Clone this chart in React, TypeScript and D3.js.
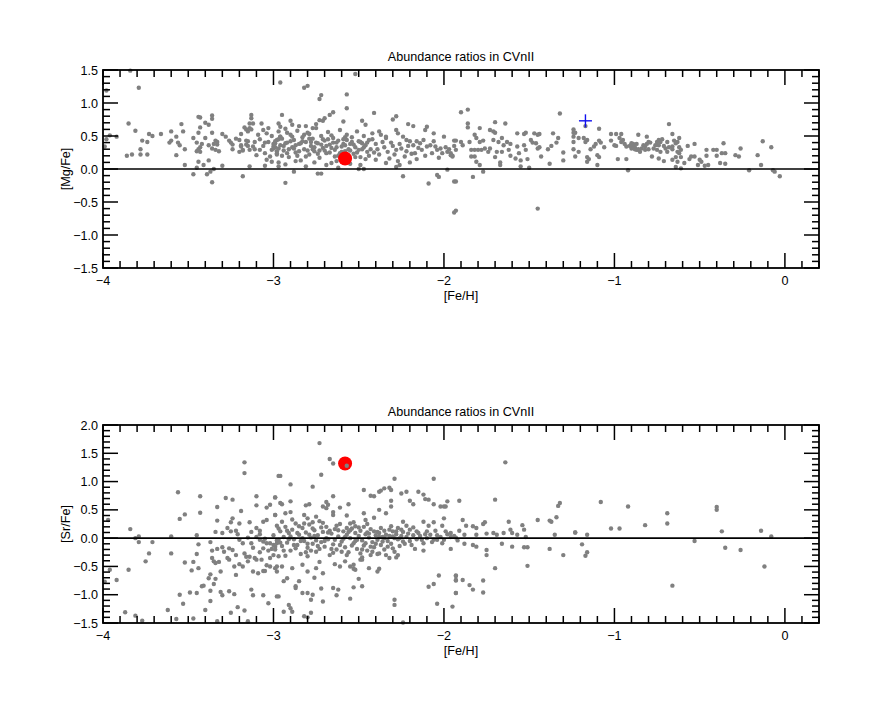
import React from 'react';
import * as d3 from 'd3';

const W = 888;
const H = 710;
const TITLE = 'Abundance ratios in CVnII';
const X_LABEL = '[Fe/H]';
const X_TICKS = [-4, -3, -2, -1, 0];
const TOP_Y_TICKS = [-1.5, -1, -0.5, 0, 0.5, 1, 1.5];
const BOT_Y_TICKS = [-1.5, -1, -0.5, 0, 0.5, 1, 1.5, 2];

// [Fe/H], [Mg/Fe] for comparison stars
const mgFe: [number, number][] = [
  [-3.84,1.49],[-3.98,1.19],[-3.79,1.23],[-3.85,0.69],[-3.81,0.58],[-3.96,0.51],[-3.92,0.49],[-3.98,0.45],[-3.99,0.34],[-3.86,0.20],
  [-3.83,0.22],[-3.78,0.22],[-3.78,0.30],[-3.77,0.43],[-3.74,0.41],[-3.74,0.22],[-3.73,0.53],[-3.71,0.50],[-3.66,0.53],[-3.60,0.57],
  [-3.61,0.40],[-3.60,0.43],[-3.57,0.49],[-3.56,0.40],[-3.55,0.36],[-3.57,0.21],[-3.54,0.68],[-3.53,0.57],[-3.52,0.30],[-3.52,0.06],[-3.44,0.11],
  [-3.47,-0.08],[-3.47,0.47],[-3.45,0.40],[-3.45,0.27],[-3.44,0.30],[-3.43,0.33],[-3.43,0.26],[-3.45,0.02],[-3.44,0.79],[-3.43,0.78],
  [-3.44,0.55],[-3.43,0.63],[-3.42,0.38],[-3.41,0.06],[-3.38,0.13],[-3.40,0.70],[-3.38,0.67],[-3.40,0.47],[-3.39,-0.08],[-3.37,-0.04],
  [-3.36,0.81],[-3.36,0.76],[-3.36,-0.20],[-3.36,0.55],[-3.38,0.36],[-3.36,0.31],[-3.35,0.38],[-3.34,0.43],[-3.34,0.29],[-3.33,0.41],
  [-3.33,0.37],[-3.32,0.27],[-3.35,0.00],[-3.30,0.53],[-3.30,0.05],[-3.28,0.49],[-3.26,0.43],[-3.24,0.37],[-3.22,0.46],[-3.24,0.30],
  [-3.20,0.26],[-3.19,0.34],[-3.18,0.28],[-3.16,0.43],[-3.19,0.53],[-3.16,0.60],[-3.17,0.63],[-3.14,0.62],[-3.18,-0.11],[-3.15,0.57],
  [-3.13,0.60],[-3.14,0.04],[-3.13,0.82],[-3.13,0.77],[-3.14,0.69],[-3.12,0.69],
  [-3.20,0.44],[-3.19,0.36],[-3.18,0.29],[-3.16,0.37],[-3.15,0.42],[-3.14,0.29],[-3.12,0.34],[-3.11,0.41],[-3.10,0.21],[-3.08,0.29],
  [-3.06,0.35],[-3.05,0.24],[-3.04,0.14],[-3.03,0.41],[-3.02,0.19],[-3.01,0.29],[-3.00,0.34],[-2.99,0.39],[-2.98,0.44],[-2.98,0.24],
  [-2.97,0.31],[-2.96,0.49],[-3.07,0.69],[-3.06,0.59],[-3.04,0.54],[-3.03,0.62],[-3.05,0.05],[-3.01,0.11],
  [-2.96,1.31],[-2.82,1.23],[-2.80,1.26],[-2.72,1.12],[-2.73,1.06],[-2.57,1.13],[-2.52,1.44],[-2.57,0.92],[-2.95,0.82],[-2.65,0.86],
  [-2.67,0.82],[-2.70,0.77],[-2.73,0.74],[-2.71,0.73],[-2.41,0.85],[-2.48,0.73],[-2.59,0.72],[-2.46,0.67],[-2.28,0.80],[-2.30,0.75],
  [-2.21,0.68],[-2.18,0.65],[-2.90,0.73],[-2.89,0.67],[-2.97,0.69],[-2.96,0.64],[-2.85,0.65],[-2.81,0.65],[-2.77,0.62],[-2.75,0.68],
  [-2.10,0.64],[-2.11,0.59],[-2.06,0.54],[-2.00,0.49],[-1.93,0.43],[-2.28,0.59],[-2.27,0.54],[-2.38,0.57],[-2.37,0.52],[-2.42,0.54],
  [-2.34,0.49],[-2.34,0.47],[-2.24,0.49],[-2.22,0.44],[-2.20,0.42],[-2.18,0.36],[-2.16,0.42],[-2.14,0.39],[-2.12,0.44],[-2.10,0.34],
  [-2.08,0.36],[-2.06,0.42],[-2.05,0.34],[-2.04,0.29],[-2.02,0.31],[-2.01,0.24],[-1.98,0.26],[-1.96,0.21],[-1.95,0.19],[-1.93,0.29],
  [-2.17,0.24],[-2.16,0.15],[-2.13,0.29],[-2.24,-0.11],[-2.09,-0.22],[-2.04,-0.09],[-2.03,-0.12],[-1.93,-0.19],[-1.98,-0.01],[-2.93,-0.21],
  [-2.74,-0.07],[-2.72,-0.07],[-2.50,0.00],[-2.47,0.00],[-2.62,0.02],[-2.28,0.03],[-2.88,-0.04],[-2.97,0.04],
  [-3.01,0.50],[-3.00,0.31],[-2.99,0.42],[-2.98,0.22],[-2.97,0.57],[-2.96,0.36],[-2.95,0.46],[-2.94,0.28],[-2.93,0.61],[-2.92,0.40],
  [-2.91,0.18],[-2.90,0.52],[-2.89,0.33],[-2.88,0.44],[-2.87,0.25],[-2.86,0.58],[-2.85,0.38],[-2.84,0.13],[-2.83,0.48],[-2.82,0.30],
  [-2.81,0.41],[-2.80,0.55],[-2.79,0.22],[-2.78,0.35],[-2.77,0.46],[-2.76,0.27],[-2.75,0.62],[-2.74,0.39],[-2.73,0.17],[-2.72,0.50],
  [-2.71,0.32],[-2.70,0.43],[-2.69,0.24],[-2.68,0.56],[-2.67,0.37],[-2.66,0.09],[-2.65,0.47],[-2.64,0.29],[-2.63,0.40],[-2.62,0.20],
  [-2.61,0.59],[-2.60,0.34],[-2.59,0.45],[-2.58,0.27],[-2.57,0.52],[-2.56,0.14],[-2.55,0.38],[-2.54,0.48],[-2.53,0.23],[-2.52,0.33],
  [-2.51,0.57],[-2.50,0.42],[-2.49,0.18],[-2.48,0.30],[-2.47,0.50],[-2.46,0.36],[-2.45,0.26],[-2.44,0.44],
  [-3.00,0.38],[-2.98,0.27],[-2.96,0.49],[-2.94,0.35],[-2.92,0.24],[-2.90,0.42],[-2.88,0.31],[-2.86,0.20],[-2.84,0.39],[-2.82,0.52],
  [-2.80,0.28],[-2.78,0.41],[-2.76,0.33],[-2.74,0.23],[-2.72,0.37],[-2.70,0.28],[-2.68,0.45],[-2.66,0.32],[-2.64,0.19],[-2.62,0.43],
  [-2.60,0.26],[-2.58,0.36],[-2.56,0.30],[-2.54,0.41],[-2.52,0.18],[-2.50,0.29],[-2.48,0.39],[-2.46,0.15],
  [-2.97,0.10],[-2.93,0.07],[-2.87,0.12],[-2.81,0.04],[-2.76,0.10],[-2.69,0.06],[-2.63,0.12],[-2.55,0.08],[-2.49,0.06],
  [-2.99,0.33],[-2.97,0.45],[-2.95,0.20],[-2.93,0.39],[-2.91,0.30],[-2.89,0.49],[-2.87,0.36],[-2.85,0.27],[-2.83,0.42],[-2.81,0.19],
  [-2.79,0.46],[-2.77,0.30],[-2.75,0.40],[-2.73,0.28],[-2.71,0.45],[-2.69,0.35],[-2.67,0.25],[-2.65,0.40],[-2.63,0.33],[-2.61,0.24],
  [-2.59,0.38],[-2.57,0.44],[-2.55,0.28],[-2.53,0.37],[-2.51,0.25],[-2.49,0.41],[-2.47,0.33],[-2.45,0.40],[-2.43,0.30],[-2.41,0.25],
  [-3.05,0.40],[-3.08,0.45],[-3.11,0.30],[-3.15,0.35],[-3.25,0.40],[-3.09,0.52],[-2.66,0.51],[-2.79,0.53],[-2.92,0.55],[-2.58,0.48],
  [-2.42,0.45],[-2.40,0.38],[-2.39,0.30],[-2.38,0.22],[-2.36,0.41],[-2.35,0.33],[-2.33,0.26],[-2.32,0.16],[-2.31,0.40],[-2.30,0.35],
  [-2.29,0.22],[-2.28,0.29],[-2.27,0.12],[-2.26,0.38],[-2.25,0.31],[-2.23,0.19],[-2.22,0.27],[-2.21,0.35],[-2.20,0.10],[-2.19,0.23],
  [-2.26,0.06],[-2.34,0.09],[-2.40,0.14],[-2.44,0.20],[-2.15,0.32],[-2.11,0.20],[-2.07,0.24],[-2.03,0.17],[-1.99,0.33],[-1.97,0.30],
  [-1.90,0.86],[-1.86,0.90],[-1.86,0.69],[-1.86,0.63],[-1.79,0.62],[-1.70,0.71],[-1.64,0.69],[-1.32,0.84],[-1.17,0.65],
  [-1.24,0.60],[-1.24,0.55],[-1.23,0.55],[-1.09,0.61],[-1.02,0.53],[-0.99,0.53],[-0.96,0.53],
  [-1.94,0.43],[-1.90,0.41],[-1.89,0.36],[-1.94,0.35],[-1.96,0.24],[-1.95,0.20],
  [-1.85,0.41],[-1.82,0.52],[-1.81,0.47],[-1.79,0.41],[-1.77,0.43],[-1.76,0.31],[-1.78,0.29],[-1.80,0.29],[-1.82,0.29],[-1.84,0.29],
  [-1.84,0.19],[-1.82,0.19],[-1.81,0.11],[-1.79,0.06],[-1.77,-0.04],[-1.83,-0.12],[-1.94,-0.19],[-1.94,-0.66],[-1.93,-0.63],[-1.45,-0.60],
  [-1.73,0.59],[-1.71,0.57],[-1.70,0.55],[-1.73,0.31],[-1.74,0.26],[-1.71,0.44],[-1.68,0.41],[-1.66,0.47],[-1.65,0.36],
  [-1.70,0.18],[-1.67,0.10],[-1.67,0.06],[-1.69,0.26],[-1.66,0.26],[-1.63,0.41],[-1.61,0.38],[-1.62,0.29],[-1.61,0.20],[-1.58,0.16],
  [-1.57,0.54],[-1.57,0.34],[-1.56,0.24],[-1.55,0.13],[-1.55,0.04],[-1.53,0.53],[-1.52,0.55],[-1.53,0.36],[-1.52,0.29],[-1.51,0.15],
  [-1.50,0.02],[-1.49,0.44],[-1.48,0.40],[-1.47,0.54],[-1.45,0.52],[-1.44,0.53],[-1.45,0.31],[-1.44,0.33],[-1.43,0.19],[-1.46,0.39],
  [-1.39,0.30],[-1.38,0.08],[-1.37,0.35],[-1.36,0.54],[-1.34,0.40],[-1.33,0.47],[-1.30,0.25],[-1.30,0.13],
  [-1.24,0.49],[-1.24,0.41],[-1.24,0.30],[-1.23,0.19],[-1.21,0.26],[-1.21,0.47],[-1.18,0.47],[-1.17,0.41],[-1.16,0.44],
  [-1.16,0.18],[-1.15,0.15],[-1.16,0.11],[-1.14,0.30],[-1.12,0.34],[-1.11,0.38],[-1.10,0.21],[-1.10,0.06],[-1.09,0.43],[-1.08,0.40],
  [-1.09,0.18],[-1.06,0.33],[-1.02,0.43],[-1.00,0.36],[-0.99,0.35],[-0.97,0.47],[-0.96,0.41],[-0.95,0.44],[-0.94,0.38],[-0.93,0.34],
  [-0.98,0.15],[-0.93,0.15],[-0.92,-0.02],[-0.91,0.35],[-0.89,0.38],[-0.88,0.33],[-0.87,0.29],[-0.86,0.30],
  [-0.68,0.68],[-0.86,0.52],[-0.81,0.49],[-0.66,0.53],
  [-0.90,0.39],[-0.89,0.35],[-0.90,0.31],[-0.88,0.30],[-0.87,0.38],[-0.86,0.29],[-0.84,0.31],[-0.85,0.26],[-0.83,0.36],[-0.82,0.34],
  [-0.81,0.38],[-0.80,0.41],[-0.79,0.40],[-0.82,0.29],[-0.80,0.30],[-0.76,0.36],[-0.75,0.41],[-0.74,0.44],[-0.73,0.41],[-0.72,0.45],
  [-0.74,0.36],[-0.77,0.31],[-0.75,0.29],[-0.73,0.26],[-0.71,0.35],[-0.69,0.41],[-0.70,0.31],[-0.68,0.33],[-0.69,0.26],
  [-0.78,0.19],[-0.74,0.16],[-0.71,0.12],
  [-0.66,0.34],[-0.66,0.30],[-0.65,0.43],[-0.64,0.39],[-0.63,0.41],[-0.62,0.47],[-0.62,0.33],[-0.63,0.26],[-0.62,0.24],[-0.61,0.29],
  [-0.61,0.18],[-0.64,0.18],[-0.66,0.14],[-0.63,0.11],[-0.64,0.03],[-0.61,0.01],
  [-0.57,0.35],[-0.53,0.38],[-0.59,0.09],[-0.56,0.15],[-0.55,0.19],[-0.53,0.19],[-0.51,0.06],[-0.50,0.14],[-0.49,0.11],[-0.47,0.05],
  [-0.45,0.06],[-0.46,0.20],[-0.46,0.29],[-0.42,0.29],[-0.40,0.29],[-0.40,0.20],[-0.38,0.09],[-0.37,0.24],[-0.36,0.39],[-0.35,0.24],
  [-0.35,0.08],[-0.29,0.21],[-0.27,0.19],[-0.26,0.31],[-0.21,-0.02],[-0.16,0.21],[-0.14,0.06],[-0.13,0.42],[-0.08,0.33],
  [-0.07,-0.02],[-0.06,-0.04],[-0.03,-0.11]
];

// [Fe/H], [Sr/Fe] for comparison stars
const srFe: [number, number][] = [
  [-3.17,1.34],[-3.17,1.15],[-2.97,1.10],[-3.56,0.81],[-3.43,0.74],[-3.28,0.71],[-3.24,0.68],[-3.10,0.74],[-3.10,0.58],[-2.99,0.72],
  [-3.33,0.55],[-3.55,0.34],[-3.52,0.42],[-3.43,0.45],[-3.97,0.32],[-3.84,0.16],[-3.19,0.48],[-3.24,0.35],[-3.25,0.28],[-3.20,0.26],
  [-3.14,0.28],[-3.33,0.31],[-3.04,0.54],[-3.02,0.59],[-2.99,0.41],[-2.96,0.62],
  [-3.27,0.18],[-3.30,0.09],[-3.34,0.11],[-3.25,0.12],[-3.22,0.13],[-3.21,0.07],[-3.13,0.11],[-3.08,0.07],[-3.06,0.29],[-3.04,0.32],
  [-3.10,0.18],[-3.08,0.13],[-3.81,0.00],[-3.79,0.03],[-3.79,-0.07],[-3.71,-0.07],[-3.60,0.03],[-3.45,0.05],[-3.44,-0.11],[-3.37,-0.07],
  [-3.73,-0.27],[-3.75,-0.41],[-3.60,-0.27],[-3.85,-0.56],[-3.96,-0.56],[-3.92,-0.74],[-3.99,-0.77],
  [-3.52,-0.43],[-3.47,-0.42],[-3.48,-0.57],[-3.44,-0.53],[-3.45,-0.28],
  [-3.36,-0.35],[-3.36,-0.22],[-3.33,-0.19],[-3.30,-0.16],[-3.26,-0.18],[-3.24,-0.21],[-3.29,-0.24],
  [-3.35,-0.41],[-3.34,-0.44],[-3.32,-0.42],[-3.31,-0.59],[-3.37,-0.64],[-3.38,-0.71],[-3.34,-0.72],[-3.42,-0.85],[-3.41,-0.84],[-3.35,-0.81],
  [-3.37,-0.93],[-3.37,-1.11],[-3.40,-1.27],
  [-3.27,-0.35],[-3.26,-0.38],[-3.23,-0.50],[-3.22,-0.65],[-3.20,-0.46],[-3.17,-0.27],[-3.16,-0.33],[-3.18,-0.50],[-3.15,-0.41],[-3.14,-0.33],
  [-3.12,-0.59],[-3.11,-0.35],[-3.10,-0.38],[-3.09,-0.62],[-3.07,-0.38],[-3.06,-0.58],[-3.05,-0.58],[-3.04,-0.48],[-3.02,-0.50],[-3.02,-0.35],
  [-3.00,-0.30],[-2.99,-0.53],[-2.98,-0.50],[-2.97,-0.32],
  [-3.18,-0.09],[-3.13,-0.09],[-3.08,-0.03],[-3.06,-0.06],[-3.04,-0.09],[-3.02,-0.09],[-3.00,-0.12],[-3.06,-0.18],[-3.03,-0.22],[-3.01,-0.19],
  [-2.99,-0.15],[-2.98,-0.09],[-2.97,-0.03],[-3.08,-0.25],
  [-3.55,-1.00],[-3.49,-0.96],[-3.45,-0.97],[-3.53,-1.16],
  [-3.31,-0.95],[-3.30,-1.01],[-3.26,-0.94],[-3.23,-0.99],[-3.13,-0.91],[-3.12,-1.01],[-3.06,-1.01],[-2.97,-1.03],[-3.03,-1.15],
  [-3.62,-1.27],[-3.87,-1.31],[-3.81,-1.37],[-3.77,-1.46],[-3.57,-1.43],[-3.47,-1.42],[-3.33,-1.47],[-3.25,-1.32],[-3.21,-1.22],[-3.17,-1.28],[-3.15,-1.47],
  [-2.73,1.68],[-2.67,1.40],[-2.65,1.32],[-2.96,1.10],[-2.72,1.12],[-2.90,0.95],[-2.77,0.91],[-2.29,1.05],[-2.06,1.05],
  [-2.47,0.85],[-2.65,0.74],[-2.99,0.72],[-2.43,0.75],[-2.41,0.74],[-2.38,0.82],[-2.37,0.84],[-2.35,0.88],[-2.32,0.89],[-2.31,0.85],
  [-2.25,0.79],[-2.22,0.82],[-2.20,0.66],[-2.18,0.60],[-2.15,0.82],[-2.12,0.77],[-2.11,0.69],[-2.09,0.68],[-2.06,0.60],[-2.02,0.56],
  [-2.00,0.56],[-1.98,0.65],[-1.99,0.56],[-1.91,0.66],
  [-2.90,0.65],[-2.95,0.60],[-2.81,0.58],[-2.79,0.60],[-2.71,0.56],[-2.69,0.64],[-2.68,0.59],[-2.69,0.53],[-2.65,0.46],[-2.61,0.54],
  [-2.56,0.60],[-2.57,0.40],[-2.65,0.41],
  [-2.31,0.66],[-2.31,0.56],[-2.34,0.44],[-2.38,0.50],[-2.41,0.36],[-2.47,0.44],[-2.46,0.32],[-2.45,0.25],[-2.52,0.21],[-2.55,0.26],[-2.57,0.18],
  [-2.99,0.41],[-2.93,0.44],[-2.90,0.46],[-2.82,0.41],[-2.80,0.35],[-2.75,0.38],[-2.77,0.28],
  [-2.24,0.29],[-2.22,0.22],[-2.20,0.15],[-2.18,0.19],[-2.12,0.29],[-2.09,0.22],[-2.06,0.28],[-2.05,0.13],[-2.01,0.22],[-2.00,0.35],
  [-1.99,0.12],[-1.96,0.09],[-1.93,0.01],[-1.91,0.13],[-2.10,0.12],[-2.16,0.12],[-2.24,0.11],[-2.27,0.18],[-2.30,0.12],[-2.35,0.13],[-2.39,0.11],
  [-2.17,-0.19],[-2.12,-0.22],[-2.04,-0.03],[-2.01,-0.09],[-1.96,-0.19],
  [-2.32,-0.35],[-2.28,-0.34],[-2.38,-0.27],[-2.43,-0.30],[-2.48,-0.38],[-2.53,-0.47],[-2.52,-0.56],[-2.44,-0.53],[-2.39,-0.59],[-2.38,-0.54],
  [-2.50,-0.72],[-2.48,-0.85],[-2.53,-0.87],[-2.55,-1.07],[-2.62,-0.91],[-2.63,-1.01],[-2.65,-0.88],[-2.72,-0.89],[-2.71,-1.12],[-2.77,-1.00],
  [-2.78,-1.09],[-2.80,-0.97],[-2.83,-0.97],
  [-2.29,-1.09],[-2.29,-1.18],
  [-1.93,-0.66],[-1.93,-0.74],[-2.03,-0.66],[-2.06,-0.81],[-2.09,-0.86],[-1.93,-0.97],[-2.04,-1.16],[-1.95,-1.21],
  [-2.98,-1.03],[-2.91,-1.18],[-2.90,-1.24],[-2.94,-1.30],[-2.89,-1.30],[-2.82,-1.38],[-2.80,-1.40],[-2.78,-1.32],
  [-2.94,-0.76],[-2.87,-0.85],[-2.87,-0.88],[-2.85,-0.76],[-2.92,-0.71],[-2.98,-0.59],[-2.95,-0.50],[-2.89,-0.53],
  [-2.71,-0.62],[-2.76,-0.70],[-2.75,-0.53],[-2.80,-0.59],[-2.83,-0.47],[-2.80,-0.32],[-2.73,-0.42],[-2.64,-0.46],[-2.61,-0.50],[-2.58,-0.41],
  [-2.55,-0.50],[-2.53,-0.54],[-2.49,-0.38],[-2.48,-0.34],
  [-3.00,0.05],[-2.98,-0.04],[-2.96,0.12],[-2.95,-0.14],[-2.94,0.02],[-2.93,0.20],[-2.92,-0.08],[-2.91,0.09],[-2.90,-0.22],[-2.89,0.15],
  [-2.88,-0.02],[-2.87,0.26],[-2.86,-0.12],[-2.85,0.06],[-2.84,-0.28],[-2.83,0.18],[-2.82,-0.05],[-2.81,0.10],[-2.80,-0.17],[-2.79,0.24],
  [-2.78,0.01],[-2.77,-0.10],[-2.76,0.14],[-2.75,-0.24],[-2.74,0.05],[-2.73,0.30],[-2.72,-0.07],[-2.71,0.11],[-2.70,-0.15],[-2.69,0.20],
  [-2.68,-0.02],[-2.67,-0.30],[-2.66,0.08],[-2.65,-0.11],[-2.64,0.16],[-2.63,-0.20],[-2.62,0.03],[-2.61,0.25],[-2.60,-0.06],[-2.59,0.12],
  [-2.58,-0.16],[-2.57,0.06],[-2.56,-0.25],[-2.55,0.00],[-2.54,0.17],[-2.53,-0.09],[-2.52,0.09],[-2.51,-0.19],[-2.50,0.04],[-2.49,0.13],
  [-2.48,-0.04],[-2.47,-0.13],[-2.46,0.07],[-2.45,-0.22],[-2.44,0.01],[-2.43,0.16],[-2.42,-0.07],[-2.41,-0.16],[-2.40,0.05],[-2.39,-0.03],
  [-2.38,0.09],[-2.37,-0.12],[-2.36,0.02],[-2.35,-0.20],[-2.34,0.06],[-2.33,-0.05],[-2.32,0.15],[-2.31,-0.10],[-2.30,0.03],[-2.29,-0.24],
  [-2.28,0.07],[-2.27,-0.02],[-2.26,-0.14],[-2.25,0.04],[-2.24,-0.06],
  [-2.99,-0.20],[-2.97,0.17],[-2.95,0.29],[-2.93,-0.31],[-2.91,-0.02],[-2.89,0.33],[-2.87,-0.18],[-2.85,0.21],[-2.83,0.00],[-2.81,-0.25],
  [-2.79,0.06],[-2.77,0.17],[-2.75,-0.04],[-2.73,-0.19],[-2.71,0.27],[-2.69,0.00],[-2.67,0.13],[-2.65,-0.26],[-2.63,0.22],[-2.61,-0.12],
  [-2.59,-0.01],[-2.57,-0.30],[-2.55,0.14],[-2.53,0.28],[-2.51,-0.03],[-2.49,-0.27],[-2.47,0.20],[-2.45,0.10],[-2.43,-0.15],[-2.41,0.12],
  [-2.39,-0.28],[-2.37,0.18],[-2.35,0.00],[-2.33,-0.15],[-2.31,0.21],[-2.29,0.00],[-2.27,-0.30],[-2.25,0.15],
  [-2.98,0.22],[-2.96,-0.08],[-2.94,-0.22],[-2.92,0.13],[-2.90,0.03],[-2.88,-0.12],[-2.86,0.09],[-2.84,-0.05],[-2.82,0.26],[-2.80,-0.10],
  [-2.78,-0.22],[-2.76,0.04],[-2.74,-0.14],[-2.72,0.19],[-2.70,-0.05],[-2.68,0.10],[-2.66,-0.19],[-2.64,-0.03],[-2.62,0.14],[-2.60,-0.24],
  [-2.58,0.02],[-2.56,0.11],[-2.54,-0.13],[-2.52,-0.05],[-2.50,0.19],[-2.48,-0.20],[-2.46,-0.09],[-2.44,0.08],[-2.42,-0.24],[-2.40,-0.10],
  [-2.38,0.02],[-2.36,-0.06],[-2.34,-0.30],[-2.32,0.04],[-2.30,-0.18],[-2.28,0.12],[-2.26,0.00],[-2.23,-0.10],[-2.21,0.08],[-2.19,-0.12],
  [-2.15,0.09],[-2.13,-0.03],[-2.11,0.07],[-2.07,-0.07],[-3.05,-0.01],[-3.10,0.02],[-3.15,0.01],[-3.20,-0.03],[-3.12,-0.17],[-3.22,-0.30],
  [-2.22,0.02],[-2.20,-0.05],[-2.18,0.05],[-2.16,-0.02],[-2.14,0.04],[-2.12,-0.09],[-2.10,0.00],[-2.08,0.06],[-2.06,-0.03],[-2.04,0.05],
  [-2.02,0.02],[-2.00,-0.03],[-1.98,0.07],[-1.96,0.02],[-1.94,0.04],[-1.92,-0.04],
  [-1.64,1.34],[-1.89,0.32],[-1.87,0.22],[-1.83,0.21],[-1.81,0.18],[-1.77,0.25],[-1.76,0.28],[-1.70,0.68],[-1.62,0.29],[-1.61,0.15],
  [-1.54,0.23],[-1.53,0.15],[-1.45,0.32],[-1.38,0.31],[-1.37,0.29],[-1.34,0.37],[-1.33,0.57],[-1.32,0.62],[-1.23,0.10],
  [-1.88,0.06],[-1.81,0.06],[-1.75,0.08],[-1.71,0.09],[-1.69,0.06],[-1.65,0.09],[-1.60,0.09],[-1.57,0.06],[-1.52,0.02],[-1.35,0.06],
  [-1.88,-0.10],[-1.83,-0.12],[-1.81,-0.15],[-1.75,-0.21],[-1.75,-0.30],[-1.70,-0.53],[-1.66,-0.10],[-1.60,-0.15],[-1.53,-0.16],[-1.51,-0.16],
  [-1.51,-0.49],[-1.38,-0.19],[-1.30,-0.30],
  [-1.89,-0.74],[-1.85,-0.83],[-1.83,-0.91],[-1.77,-0.75],[-1.77,-0.96],[-1.93,-0.67],[-1.93,-0.75],[-1.93,-0.97],[-2.24,-1.49],
  [-1.08,0.64],[-0.92,0.56],[-1.23,0.10],[-1.16,0.06],[-1.19,-0.11],[-1.17,-0.31],[-1.16,-0.25],[-1.02,0.17],[-0.97,0.17],[-0.82,0.23],
  [-0.69,0.44],[-0.69,0.26],[-0.66,-0.84],[-0.53,-0.05],[-0.40,0.55],[-0.40,0.50],[-0.37,0.12],[-0.35,-0.17],[-0.26,-0.21],[-0.14,0.13],
  [-0.12,-0.50],[-0.08,0.03]
];

// CVn II star
const cvnMg: [number, number][] = [[-2.58, 0.16]];
const cvnSr: [number, number][] = [[-2.58, 1.32]];
const srOverlay: [number, number][] = [[-2.57, 1.28]];
const crossMg: [number, number][] = [[-1.17, 0.73]];

const FONT = '"Liberation Sans", Arial, Helvetica, sans-serif';
const FS = 12.6;
const minus = (s: string) => s.replace(/-/g, '\u2212');

type PanelProps = {
  top: number;
  bottom: number;
  yDomain: [number, number];
  yTicks: number[];
  yLabel: string;
  data: [number, number][];
  red: [number, number][];
  cross?: [number, number][];
  overlay?: [number, number][];
};

const LEFT = 103;
const RIGHT = 819;

function Panel({ top, bottom, yDomain, yTicks, yLabel, data, red, cross, overlay }: PanelProps) {
  const x = d3.scaleLinear().domain([-4, 0.2]).range([LEFT, RIGHT]);
  const y = d3.scaleLinear().domain(yDomain).range([bottom, top]);
  const xMinor = d3.range(-40, 3).map((i) => i / 10);
  const yMinor = d3.range(Math.round(yDomain[0] * 10), Math.round(yDomain[1] * 10) + 1).map((i) => i / 10);
  const fx = d3.format('d');
  const fy = d3.format('.1f');
  const majL = 15;
  const minL = 7;
  const sw = 1.5;
  return (
    <g>
      <text x={(LEFT + RIGHT) / 2} y={top - 9} textAnchor="middle" fontSize={FS} fontFamily={FONT} fill="#000">{TITLE}</text>
      {data.map((d, i) => (
        <circle key={i} cx={x(d[0])} cy={y(d[1])} r={2.2} fill="#808080" />
      ))}
      <line x1={LEFT} x2={RIGHT} y1={y(0)} y2={y(0)} stroke="#000" strokeWidth={1.6} />
      {red.map((d, i) => (
        <circle key={'r' + i} cx={x(d[0])} cy={y(d[1])} r={7} fill="#ff0000" />
      ))}
      {overlay && overlay.map((d, i) => (
        <circle key={'o' + i} cx={x(d[0])} cy={y(d[1])} r={2.2} fill="#808080" />
      ))}
      {cross && cross.map((d, i) => (
        <g key={'c' + i} stroke="#1010f0" strokeWidth={1.4}>
          <line x1={x(d[0]) - 6.5} x2={x(d[0]) + 6.5} y1={y(d[1])} y2={y(d[1])} />
          <line x1={x(d[0])} x2={x(d[0])} y1={y(d[1]) - 6.5} y2={y(d[1]) + 6.5} />
        </g>
      ))}
      {xMinor.map((v, i) => {
        const isMaj = Math.abs(v - Math.round(v)) < 1e-6;
        const L = isMaj ? majL : minL;
        return (
          <g key={'xm' + i} stroke="#000" strokeWidth={sw}>
            <line x1={x(v)} x2={x(v)} y1={bottom} y2={bottom - L} />
            <line x1={x(v)} x2={x(v)} y1={top} y2={top + L} />
          </g>
        );
      })}
      {yMinor.map((v, i) => {
        const isMaj = Math.abs(v * 2 - Math.round(v * 2)) < 1e-6;
        const L = isMaj ? majL : minL;
        return (
          <g key={'ym' + i} stroke="#000" strokeWidth={sw}>
            <line x1={LEFT} x2={LEFT + L} y1={y(v)} y2={y(v)} />
            <line x1={RIGHT} x2={RIGHT - L} y1={y(v)} y2={y(v)} />
          </g>
        );
      })}
      <rect x={LEFT} y={top} width={RIGHT - LEFT} height={bottom - top} fill="none" stroke="#000" strokeWidth={1.8} />
      {X_TICKS.map((v) => (
        <text key={'xl' + v} x={x(v)} y={bottom + 17} textAnchor="middle" fontSize={FS} fontFamily={FONT} fill="#000">{minus(fx(v))}</text>
      ))}
      {yTicks.map((v) => (
        <text key={'yl' + v} x={LEFT - 5} y={y(v) + 4.5} textAnchor="end" fontSize={FS} fontFamily={FONT} fill="#000">{minus(fy(v))}</text>
      ))}
      <text x={(LEFT + RIGHT) / 2} y={bottom + 32} textAnchor="middle" fontSize={FS} fontFamily={FONT} fill="#000">{X_LABEL}</text>
      <text transform={`translate(${LEFT - 33},${(top + bottom) / 2}) rotate(-90)`} textAnchor="middle" fontSize={FS} fontFamily={FONT} fill="#000">{yLabel}</text>
    </g>
  );
}

export default function App() {
  return (
    <svg width={W} height={H} style={{ position: 'absolute', left: 0, top: 0, background: '#fff' }}>
      <rect width={W} height={H} fill="#fff" />
      <Panel top={70} bottom={268} yDomain={[-1.5, 1.5]} yTicks={TOP_Y_TICKS} yLabel="[Mg/Fe]" data={mgFe} red={cvnMg} cross={crossMg} />
      <Panel top={425} bottom={623} yDomain={[-1.5, 2]} yTicks={BOT_Y_TICKS} yLabel="[Sr/Fe]" data={srFe} red={cvnSr} overlay={srOverlay} />
    </svg>
  );
}
